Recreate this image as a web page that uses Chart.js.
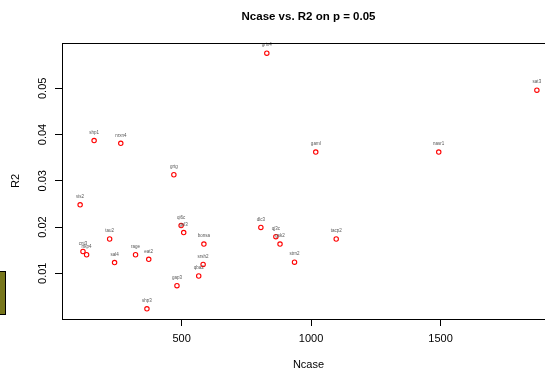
<!DOCTYPE html>
<html>
<head>
<meta charset="utf-8">
<script src="https://cdn.jsdelivr.net/npm/chart.js@4/dist/chart.umd.min.js"></script>
<style>
	html, body { margin: 0; padding: 0; background: #fff; overflow: hidden; }
	#wrap { width: 545px; height: 373px; overflow: hidden; }
</style>
</head>
<body>
<div id="wrap"><canvas id="chart" width="570" height="373"></canvas></div>
<script>
// gene labels, case counts and R2
const genes = ['shp1', 'nrxn4', 'grtg', 'vis2', 'qi6c', 'gsl3', 'tau2', 'cnt3', 'rtkp4', 'sal4', 'rage', 'eat2',
	'bonsa', 'srsh2', 'qba2', 'gap3', 'shp3', 'grin4', 'dlc3', 'qj3c', 'gsk2', 'strn2', 'tacp2', 'gaml', 'nasr1', 'sat3'];
const ncase = [162, 265, 470, 108, 498, 508, 222, 119, 133, 241, 322, 373,
	586, 583, 566, 482, 366, 829, 806, 864, 880, 936, 1097, 1018, 1493, 1872];
const r2 = [0.0387, 0.0381, 0.0313, 0.0248, 0.0203, 0.0188, 0.0174, 0.0147, 0.0140, 0.0123, 0.0140, 0.0130,
	0.0163, 0.0119, 0.0094, 0.0073, 0.0023, 0.0576, 0.0199, 0.0179, 0.0163, 0.0124, 0.0174, 0.0362, 0.0362, 0.0496];
const xTicks = [500, 1000, 1500];
const yTicks = [0.01, 0.02, 0.03, 0.04, 0.05];

let font = 'Liberation Sans, Arial, Helvetica, sans-serif';

let plot = {
	colours: {
		point: '#ff0000',
		label: '#555555',
		axis: '#000000',
		stub: '#77761c'
	},
	range: {
		x: [38, 1942],
		y: [0.0001, 0.0598]
	}
};

// box round the plotting region, R style
let framePlugin = {
	id: 'frame',
	afterDraw: function(chart) {
		let ctx = chart.ctx,
			a = chart.chartArea;

		ctx.save();
		ctx.strokeStyle = plot.colours.axis;
		ctx.lineWidth = 1;
		ctx.strokeRect(Math.round(a.left) + 0.5, Math.round(a.top) + 0.5, Math.round(a.right - a.left), Math.round(a.bottom - a.top));
		ctx.restore();
	}
};

// tiny gene names over each point
let labelPlugin = {
	id: 'geneLabels',
	afterDatasetsDraw: function(chart) {
		let ctx = chart.ctx,
			meta = chart.getDatasetMeta(0);

		ctx.save();
		ctx.font = '4.5px ' + font;
		ctx.fillStyle = plot.colours.label;
		ctx.textAlign = 'center';
		ctx.textBaseline = 'middle';
		meta.data.forEach(function(el, i) {
			ctx.fillText(genes[i], el.x, el.y - 8);
		});
		ctx.restore();
	}
};

// the clipped bar of the neighbouring panel at the left edge
let stubPlugin = {
	id: 'stub',
	afterDraw: function(chart) {
		let ctx = chart.ctx;

		ctx.save();
		ctx.fillStyle = plot.colours.stub;
		ctx.fillRect(0, 271, 5, 44);
		ctx.strokeStyle = '#000';
		ctx.lineWidth = 1;
		ctx.strokeRect(-1, 271.5, 6.5, 43);
		ctx.restore();
	}
};

new Chart(document.getElementById('chart'), {
	type: 'scatter',
	data: {
		datasets: [{
			data: ncase.map(function(n, i) {
				return { x: n, y: r2[i] };
			}),
			pointStyle: 'circle',
			pointRadius: 2.2,
			pointBorderWidth: 1.1,
			borderColor: plot.colours.point,
			backgroundColor: 'rgba(0,0,0,0)'
		}]
	},
	plugins: [framePlugin, labelPlugin, stubPlugin],
	options: {
		responsive: false,
		animation: false,
		devicePixelRatio: 1,
		layout: { padding: { left: 0, right: 15, top: 0, bottom: 0 } },
		plugins: {
			legend: { display: false },
			tooltip: { enabled: false },
			title: {
				display: true,
				fullSize: false,
				text: 'Ncase vs. R2 on p = 0.05',
				color: '#000',
				font: { family: font, size: 11.5, weight: 'bold' },
				padding: { top: 10, bottom: 19.2 }
			}
		},
		scales: {
			x: {
				type: 'linear',
				min: plot.range.x[0],
				max: plot.range.x[1],
				afterBuildTicks: function(axis) {
					axis.ticks = xTicks.map(function(v) { return { value: v }; });
				},
				afterFit: function(axis) {
					axis.height = 54;
				},
				grid: { display: true, drawOnChartArea: false, drawTicks: true, tickLength: 7, color: plot.colours.axis },
				border: { display: true, color: plot.colours.axis },
				ticks: {
					color: '#000',
					font: { family: font, size: 11 },
					padding: 6,
					maxRotation: 0,
					callback: function(v) { return String(v); }
				},
				title: {
					display: true,
					text: 'Ncase',
					color: '#000',
					font: { family: font, size: 11 },
					padding: { top: 0, bottom: 1 }
				}
			},
			y: {
				type: 'linear',
				min: plot.range.y[0],
				max: plot.range.y[1],
				afterBuildTicks: function(axis) {
					axis.ticks = yTicks.map(function(v) { return { value: v }; });
				},
				afterFit: function(axis) {
					axis.width = 62;
				},
				grid: { display: true, drawOnChartArea: false, drawTicks: true, tickLength: 7, color: plot.colours.axis },
				border: { display: true, color: plot.colours.axis },
				ticks: {
					color: '#000',
					font: { family: font, size: 11 },
					padding: 1,
					minRotation: 90,
					maxRotation: 90,
					crossAlign: 'center',
					callback: function(v) { return v.toFixed(2); }
				},
				title: {
					display: true,
					text: 'R2',
					color: '#000',
					font: { family: font, size: 11 },
					padding: { top: 9, bottom: 0 }
				}
			}
		}
	}
});
</script>
</body>
</html>
